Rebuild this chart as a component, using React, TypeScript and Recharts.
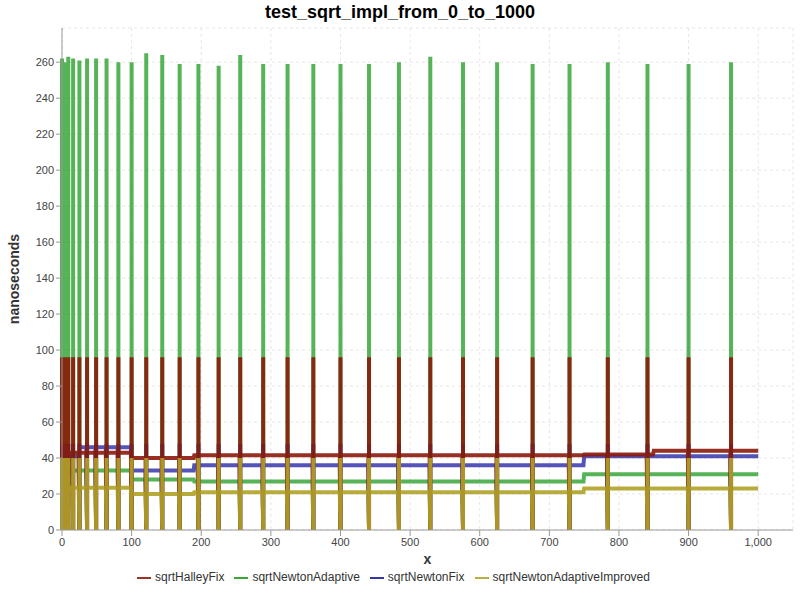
import { LineChart, Line, XAxis, YAxis, CartesianGrid, Legend } from 'recharts';

// spikes happen at perfect squares
const spikeXs = [0, 1, 4, 9, 16, 25, 36, 49, 64, 81, 100, 121, 144, 169, 196, 225, 256, 289, 324, 361, 400, 441, 484, 529, 576, 625, 676, 729, 784, 841, 900, 961];
const adaptivePeaks = [262, 259, 260, 263, 262, 261, 262, 262, 262, 260, 260, 265, 264, 259, 259, 258, 264, 259, 259, 259, 259, 259, 260, 263, 260, 260, 259, 259, 260, 259, 259, 260];
const fixPeak = 48;
const halleyPeak = 96;
const improvedPeak = 40;

// [fromX, toX, level] steady-state levels
const halleyLevels: [number, number, number][] = [[0, 100, 43], [100, 190, 40], [190, 750, 41.5], [750, 850, 42], [850, 1001, 44]];
const adaptiveLevels: [number, number, number][] = [[0, 10, 30], [10, 100, 33], [100, 190, 28], [190, 750, 27], [750, 1001, 31]];
const fixLevels: [number, number, number][] = [[0, 25, 41], [25, 100, 46], [100, 190, 33], [190, 750, 36], [750, 1001, 41]];
const improvedLevels: [number, number, number][] = [[0, 100, 23.5], [100, 190, 20], [190, 750, 21], [750, 1001, 23]];

const legendOrder = ['sqrtHalleyFix', 'sqrtNewtonAdaptive', 'sqrtNewtonFix', 'sqrtNewtonAdaptiveImproved'];
const xTicks = [0, 100, 200, 300, 400, 500, 600, 700, 800, 900, 1000];
const yTicks = [0, 20, 40, 60, 80, 100, 120, 140, 160, 180, 200, 220, 240, 260];

const levelAt = (levels: [number, number, number][], x: number) =>
  (levels.find(([a, b]) => x >= a && x < b) ?? levels[levels.length - 1])[2];

const data: Record<string, number>[] = [];
for (let x = 0; x <= 1000; x += 1) {
  const base = {
    x,
    sqrtHalleyFix: levelAt(halleyLevels, x),
    sqrtNewtonAdaptive: levelAt(adaptiveLevels, x),
    sqrtNewtonFix: levelAt(fixLevels, x),
    sqrtNewtonAdaptiveImproved: levelAt(improvedLevels, x),
  };
  const si = spikeXs.indexOf(x);
  if (si >= 0) {
    data.push({ x, sqrtHalleyFix: 0, sqrtNewtonAdaptive: 0, sqrtNewtonFix: 0, sqrtNewtonAdaptiveImproved: 0 });
    data.push({ x, sqrtHalleyFix: halleyPeak, sqrtNewtonAdaptive: adaptivePeaks[si], sqrtNewtonFix: fixPeak, sqrtNewtonAdaptiveImproved: improvedPeak });
  }
  data.push(base);
}

const font = 'Liberation Sans, Arial, sans-serif';

export default function App() {
  return (
    <div style={{ position: 'absolute', left: 0, top: 0, width: 800, height: 600, background: '#fff', fontFamily: font }}>
      <div style={{ position: 'absolute', top: 2, width: 800, textAlign: 'center', fontWeight: 'bold', fontSize: 18 }}>
        test_sqrt_impl_from_0_to_1000
      </div>
      <LineChart width={800} height={600} data={data} margin={{ top: 28, right: 7, bottom: 4, left: 4 }}>
        <CartesianGrid stroke="#e6e6e6" strokeDasharray="3 3" />
        <XAxis dataKey="x" type="number" domain={[0, 1050]} ticks={xTicks} tickFormatter={(v: number) => v.toLocaleString('en-US')}
          tick={{ fill: '#444', fontSize: 11, fontFamily: font }} stroke="#999" height={40}
          label={{ value: 'x', position: 'insideBottom', offset: 6, fontWeight: 'bold', fontSize: 14, fill: '#333' }} />
        <YAxis type="number" domain={[0, 279]} ticks={yTicks} tick={{ fill: '#444', fontSize: 11, fontFamily: font }} stroke="#999" width={58}
          label={{ value: 'nanoseconds', angle: -90, position: 'insideLeft', offset: 10, fontWeight: 'bold', fontSize: 14, fill: '#333', style: { textAnchor: 'middle' } }} />
        <Legend verticalAlign="bottom" height={26} iconType="plainline"
          itemSorter={(item: { dataKey?: unknown }) => legendOrder.indexOf(String(item.dataKey))}
          wrapperStyle={{ fontSize: 12, fontFamily: font, color: '#333' }} formatter={(v: string) => <span style={{ color: '#333' }}>{v}</span>} />
        <Line dataKey="sqrtNewtonAdaptive" stroke="#1f9a1f" strokeOpacity={0.75} strokeWidth={4} dot={false} isAnimationActive={false} />
        <Line dataKey="sqrtNewtonFix" stroke="#1a1aa0" strokeOpacity={0.75} strokeWidth={4} dot={false} isAnimationActive={false} />
        <Line dataKey="sqrtHalleyFix" stroke="#8b1a0a" strokeOpacity={0.9} strokeWidth={4} dot={false} isAnimationActive={false} />
        <Line dataKey="sqrtNewtonAdaptiveImproved" stroke="#b0a228" strokeOpacity={0.9} strokeWidth={4} dot={false} isAnimationActive={false} />
      </LineChart>
    </div>
  );
}
